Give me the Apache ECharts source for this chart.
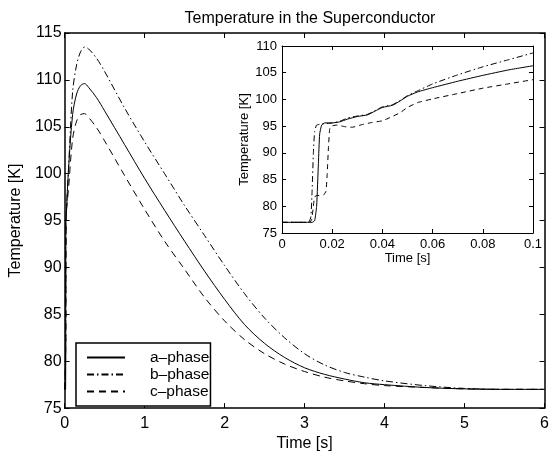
<!DOCTYPE html>
<html>
<head>
<meta charset="utf-8">
<script src="https://cdn.jsdelivr.net/npm/echarts@6/dist/echarts.min.js"></script>
<style>
html,body{margin:0;padding:0;background:#fff;}
#chart{width:552px;height:457px;}
</style>
</head>
<body>
<div id="chart"></div>
<script>
// ---- data ----
const titleText = 'Temperature in the Superconductor';
const seriesNames = ['a\u2013phase', 'b\u2013phase', 'c\u2013phase'];

// main plot (0..6 s)
const timeMain = [0, 0.012, 0.016, 0.02, 0.05, 0.1, 0.15, 0.2, 0.25, 0.3, 0.4, 0.5, 0.75, 1.0, 1.25, 1.5, 1.75, 2.0, 2.25, 2.5, 2.75, 3.0, 3.25, 3.5, 3.75, 4.0, 4.5, 5.0, 5.5, 6.0];
const aMain = [77, 77, 95, 95.6, 100.6, 106.3, 108.5, 109.4, 109.6, 109.2, 108.1, 106.7, 103.1, 99.5, 96.1, 92.8, 89.6, 86.6, 83.9, 81.9, 80.4, 79.3, 78.6, 78.1, 77.7, 77.5, 77.2, 77.05, 77.0, 77.0];
const bMain = [77, 80, 95.4, 95.6, 100.7, 108.7, 111.6, 113.0, 113.5, 113.3, 112.3, 110.9, 107.0, 103.4, 100.0, 96.6, 93.4, 90.2, 87.2, 84.6, 82.5, 80.8, 79.6, 78.8, 78.3, 77.9, 77.4, 77.1, 77.0, 77.0];
const cMain = [77, 80, 82.1, 95.2, 98.5, 103.7, 105.6, 106.3, 106.4, 106.0, 104.9, 103.5, 99.8, 96.2, 92.8, 89.8, 86.8, 84.3, 82.3, 80.8, 79.7, 78.9, 78.3, 77.9, 77.6, 77.4, 77.2, 77.05, 77.0, 77.0];

// inset (0..0.1 s)
const timeA = [0, 0.012, 0.013, 0.0138, 0.0145, 0.015, 0.0158, 0.017, 0.02, 0.023, 0.026, 0.03, 0.034, 0.037, 0.04, 0.044, 0.047, 0.05, 0.054, 0.06, 0.07, 0.08, 0.09, 0.1];
const aInset = [77, 77, 77.3, 80, 88, 93.5, 95.2, 95.6, 95.6, 95.8, 96.3, 96.8, 97.1, 97.8, 98.5, 98.9, 99.7, 100.6, 101.4, 102.2, 103.4, 104.5, 105.5, 106.3];
const timeB = [0, 0.0105, 0.0115, 0.012, 0.0125, 0.013, 0.0138, 0.016, 0.02, 0.023, 0.026, 0.03, 0.034, 0.037, 0.04, 0.044, 0.047, 0.05, 0.054, 0.06, 0.07, 0.08, 0.09, 0.1];
const bInset = [77, 77, 78, 83, 90, 94, 95.2, 95.4, 95.6, 95.9, 96.5, 96.9, 97.2, 97.9, 98.6, 99.0, 99.8, 100.7, 101.6, 102.9, 104.6, 106.1, 107.4, 108.7];
const timeC = [0, 0.011, 0.0118, 0.0125, 0.013, 0.014, 0.0165, 0.0175, 0.018, 0.0185, 0.019, 0.0195, 0.022, 0.025, 0.028, 0.032, 0.036, 0.04, 0.043, 0.047, 0.05, 0.054, 0.06, 0.07, 0.08, 0.09, 0.1];
const cInset = [77, 77, 77.5, 80, 81.8, 82.0, 82.1, 82.8, 86, 91, 94.5, 95.0, 95.2, 94.9, 94.8, 95.3, 95.7, 96.0, 96.6, 97.5, 98.5, 99.4, 100.1, 101.1, 102.1, 102.9, 103.7];

// ---- chart ----
const FONT = 'Liberation Sans, Arial, Helvetica, sans-serif';
const pairs = (xs, ys) => xs.map((x, i) => [x, ys[i]]);
const styles = [
  { type: 'solid' },
  { type: [7, 3, 1.5, 3] },
  { type: [7, 5] }
];
const insetStyles = [
  { type: 'solid' },
  { type: [6, 3, 1.5, 3] },
  { type: [5, 4] }
];

function axisBase(extra, isMain) {
  return Object.assign({
    type: 'value',
    splitLine: { show: false },
    axisLine: { show: true, onZero: false, lineStyle: { color: '#000', width: isMain ? 1.5 : 1 } },
    axisTick: { show: true, inside: true, length: isMain ? 5 : 4, lineStyle: { color: '#000', width: 1 } },
    axisLabel: { color: '#000', fontFamily: FONT, fontSize: isMain ? 16 : 13 },
    nameTextStyle: { color: '#000', fontFamily: FONT, fontSize: isMain ? 16 : 13 }
  }, extra);
}

const chart = echarts.init(document.getElementById('chart'), null, { renderer: 'canvas' });
const mainSeries = [aMain, bMain, cMain].map((ys, i) => ({
  name: seriesNames[i], type: 'line', xAxisIndex: 0, yAxisIndex: 0,
  data: pairs(timeMain, ys), symbol: 'none', showSymbol: false, smooth: 0.3,
  lineStyle: Object.assign({ color: '#000', width: 1 }, styles[i]),
  itemStyle: { color: '#000' }, z: 3
}));
const insetData = [[timeA, aInset], [timeB, bInset], [timeC, cInset]];
const insetSeries = insetData.map((d, i) => ({
  name: seriesNames[i], type: 'line', xAxisIndex: 2, yAxisIndex: 2,
  data: pairs(d[0], d[1]), symbol: 'none', showSymbol: false, smooth: 0.15,
  lineStyle: Object.assign({ color: '#000', width: 1 }, insetStyles[i]),
  itemStyle: { color: '#000' }, z: 5
}));

chart.setOption({
  animation: false,
  backgroundColor: '#fff',
  title: {
    text: titleText, left: 305, top: 6, textAlign: 'center',
    textStyle: { fontFamily: FONT, fontSize: 16, fontWeight: 'normal', color: '#000' }
  },
  grid: [
    { left: 63, top: 33, right: 5, bottom: 42 },
    { left: 282, top: 46, width: 251, height: 187 }
  ],
  legend: {
    orient: 'vertical', left: 76, top: 343,
    data: seriesNames,
    itemWidth: 38, itemHeight: 12, itemGap: 0,
    padding: [6, 1, 6, 10],
    borderColor: '#000', borderWidth: 1.5, backgroundColor: '#fff',
    itemStyle: { opacity: 0 },
    textStyle: { color: '#000', fontFamily: FONT, fontSize: 15.5, lineHeight: 17, padding: [0, 0, 0, 20] },
    selectedMode: false
  },
  xAxis: [
    axisBase({ gridIndex: 0, min: 0, max: 6, interval: 1, position: 'bottom',
      name: 'Time [s]', nameLocation: 'middle', nameGap: 21,
      axisLabel: { color: '#000', fontFamily: FONT, fontSize: 16, margin: 7 } }, true),
    axisBase({ gridIndex: 0, min: 0, max: 6, interval: 1, position: 'top',
      axisLabel: { show: false } }, true),
    axisBase({ gridIndex: 1, min: 0, max: 0.1, interval: 0.02, position: 'bottom',
      name: 'Time [s]', nameLocation: 'middle', nameGap: 17,
      axisLabel: { color: '#000', fontFamily: FONT, fontSize: 13, margin: 5,
        formatter: v => String(+v.toFixed(2)) } }, false),
    axisBase({ gridIndex: 1, min: 0, max: 0.1, interval: 0.02, position: 'top',
      axisLabel: { show: false } }, false)
  ],
  yAxis: [
    axisBase({ gridIndex: 0, min: 75, max: 115, interval: 5, position: 'left',
      name: 'Temperature [K]', nameLocation: 'middle', nameGap: 31,
      axisLabel: { color: '#000', fontFamily: FONT, fontSize: 16, margin: 3 } }, true),
    axisBase({ gridIndex: 0, min: 75, max: 115, interval: 5, position: 'right',
      axisLabel: { show: false } }, true),
    axisBase({ gridIndex: 1, min: 75, max: 110, interval: 5, position: 'left',
      name: 'Temperature [K]', nameLocation: 'middle', nameGap: 29,
      axisLabel: { color: '#000', fontFamily: FONT, fontSize: 13, margin: 5 } }, false),
    axisBase({ gridIndex: 1, min: 75, max: 110, interval: 5, position: 'right',
      axisLabel: { show: false } }, false)
  ],
  series: mainSeries.concat(insetSeries)
});
</script>
</body>
</html>
